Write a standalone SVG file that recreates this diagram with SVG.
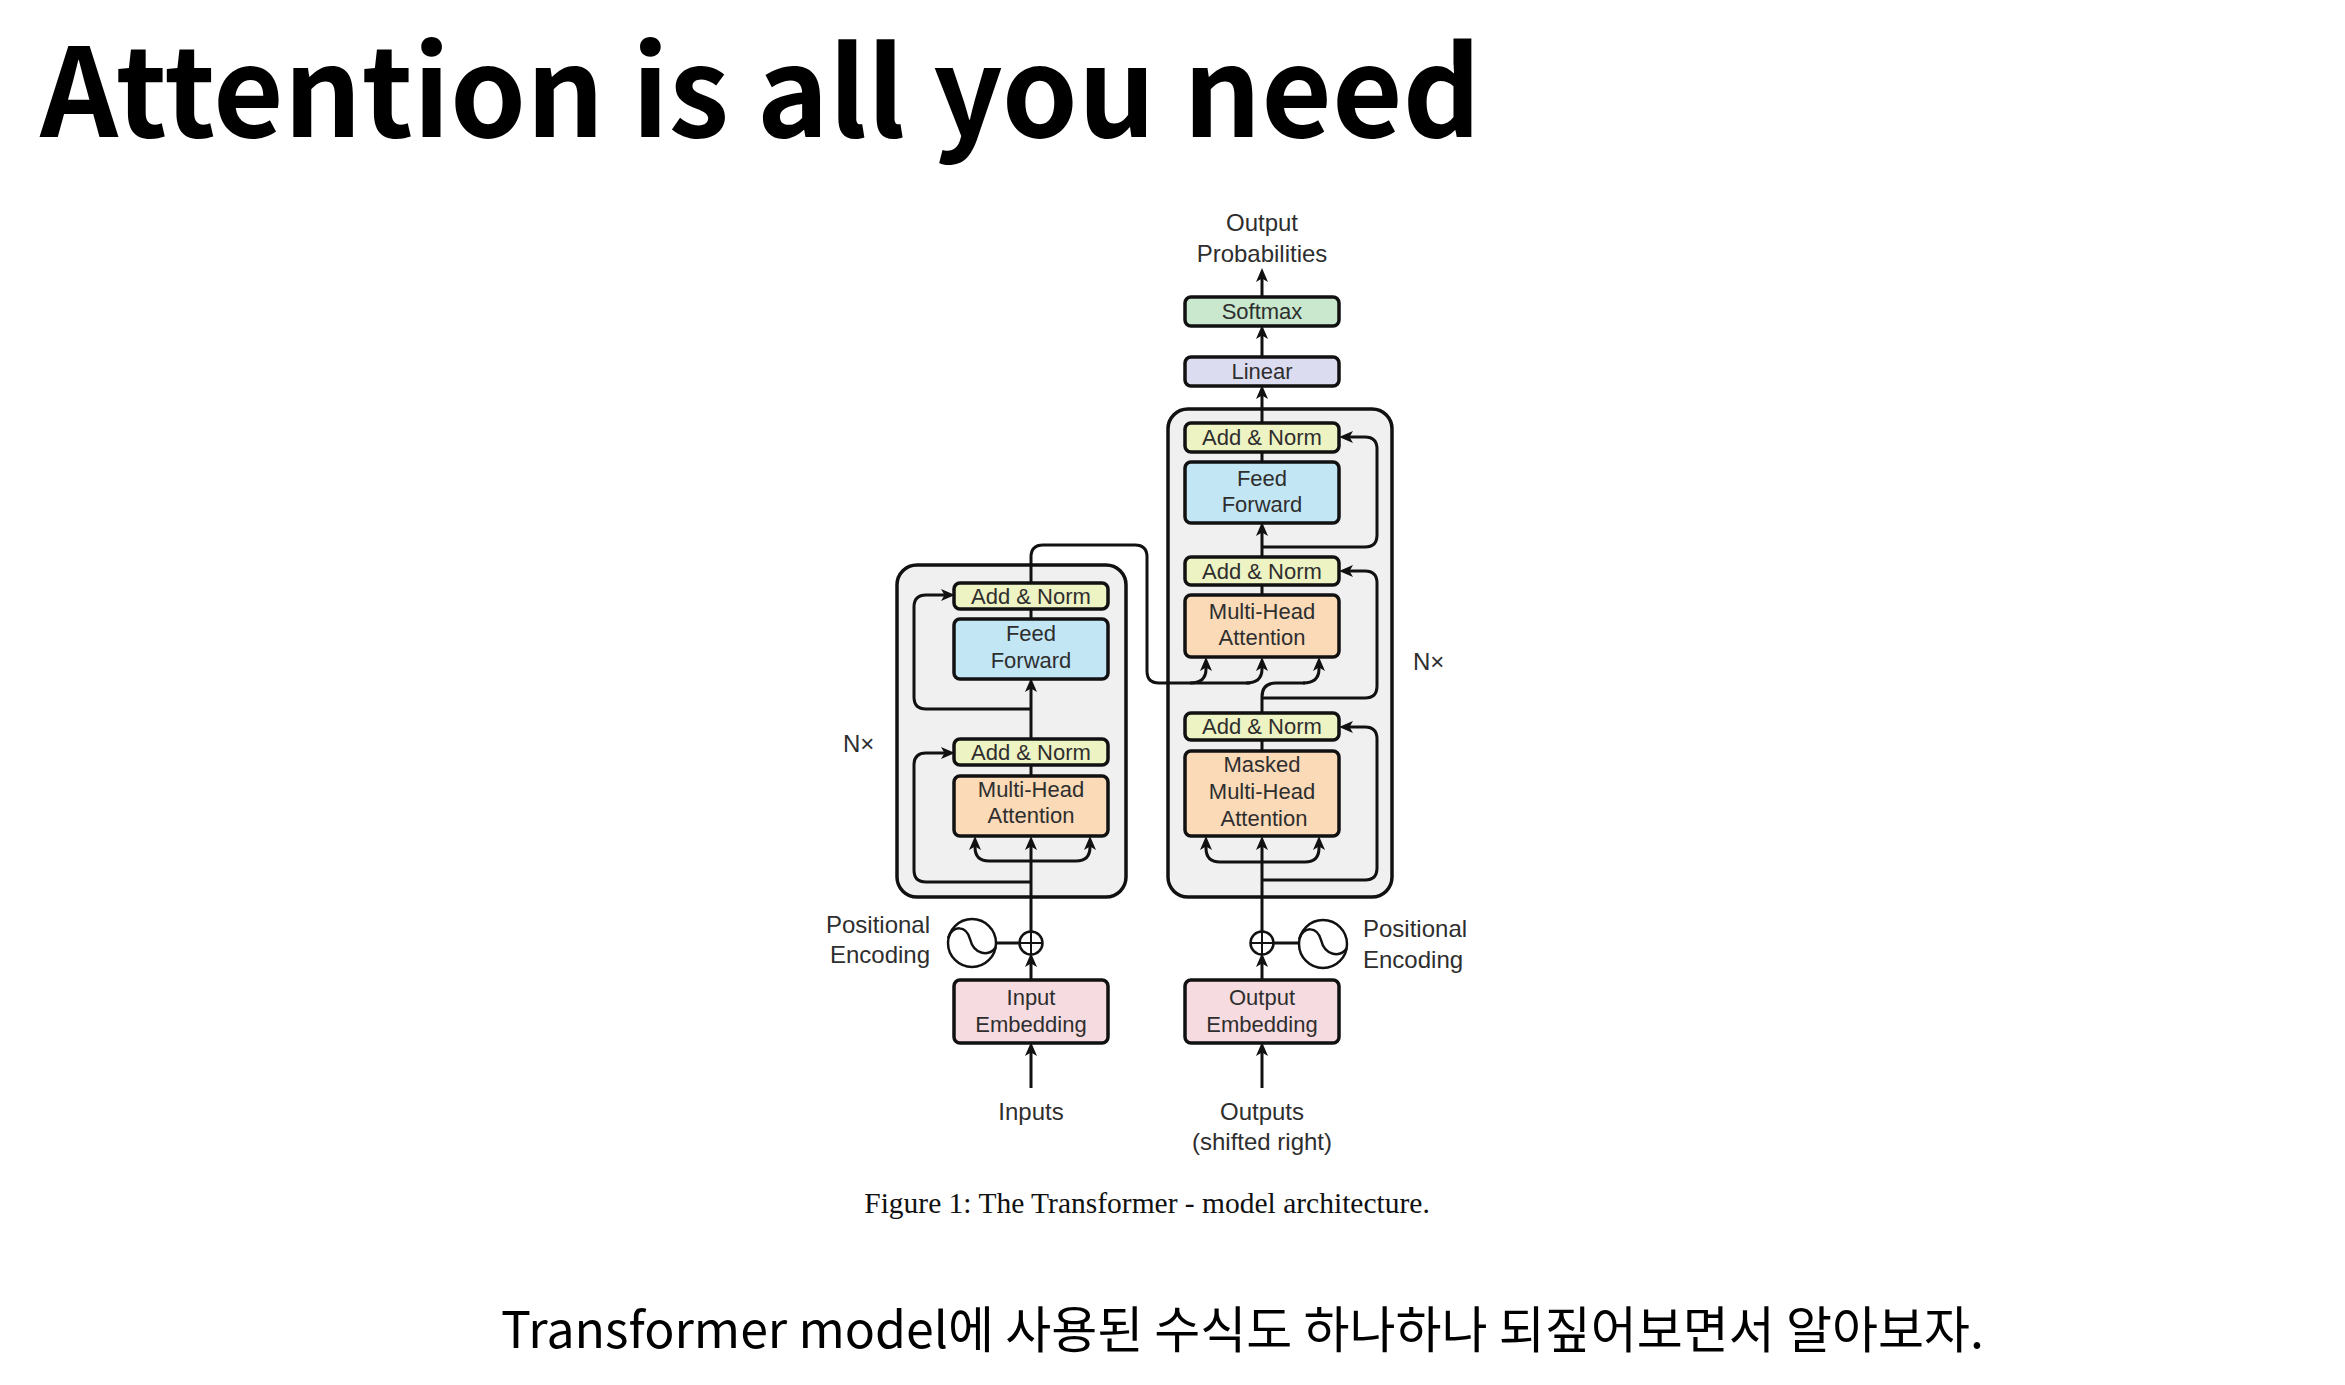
<svg xmlns="http://www.w3.org/2000/svg" width="2345" height="1385" viewBox="0 0 2345 1385">
  <defs>
    <marker id="arrow" markerUnits="userSpaceOnUse" markerWidth="16" markerHeight="14" viewBox="0 0 16 14" refX="6" refY="7" orient="auto">
      <path d="M0,1 L14,7 L0,13 L3.5,7 z" fill="#111"/>
    </marker>
    <style>
      .title { font-family: "Noto Sans CJK KR", "Noto Sans", sans-serif; font-weight: 700; font-size: 123px; fill: #000; }
      .sub { font-family: "Noto Sans CJK KR", "Noto Sans", sans-serif; font-weight: 400; font-size: 50px; fill: #000; }
      .cap { font-family: "Liberation Serif", serif; font-size: 29.5px; fill: #111; }
      .lbl { font-family: "Liberation Sans", Arial, sans-serif; font-size: 22px; fill: #2e2e2e; text-anchor: middle; }
      .out { font-family: "Liberation Sans", Arial, sans-serif; font-size: 24px; fill: #2e2e2e; }
      .stack { fill: #f0f0f0; stroke: #111; stroke-width: 3.5; }
      .box { stroke: #111; stroke-width: 3.5; }
      .norm { fill: #eef3c3; }
      .ff { fill: #c3e6f5; }
      .mha { fill: #fbdab8; }
      .lin { fill: #dcdcf1; }
      .soft { fill: #c9e8cd; }
      .emb { fill: #f6dce1; }
      .wire { fill: none; stroke: #111; stroke-width: 3; }
      .arr { fill: none; stroke: #111; stroke-width: 3; marker-end: url(#arrow); }
      .pe { fill: #fff; stroke: #111; stroke-width: 2.5; }
    </style>
  </defs>

  <rect width="2345" height="1385" fill="#fff"/>

  <text class="title" x="40" y="137" textLength="1441" lengthAdjust="spacingAndGlyphs">Attention is all you need</text>

  <!-- stacked layer frames -->
  <g id="encoder-stack">
    <rect class="stack" x="897" y="565" width="229" height="332" rx="20"/>
  </g>
  <g id="decoder-stack">
    <rect class="stack" x="1168" y="409" width="224" height="488" rx="20"/>
  </g>

  <!-- connectors -->
  <g id="connectors">
    <!-- decoder head -->
    <path class="arr" d="M1262 297 L1262 276"/>
    <path class="arr" d="M1262 357 L1262 333"/>
    <path class="arr" d="M1262 423 L1262 393"/>
    <path class="wire" d="M1262 452 L1262 462"/>
    <path class="arr" d="M1262 557 L1262 530"/>
    <path class="arr" d="M1262 547 L1365 547 Q1377 547 1377 535 L1377 449 Q1377 437 1365 437 L1347 437"/>
    <path class="wire" d="M1262 585 L1262 595"/>
    <!-- encoder output into decoder attention (K, V) -->
    <path class="wire" d="M1031 583 L1031 557 Q1031 545 1043 545 L1135 545 Q1147 545 1147 557 L1147 671 Q1147 683 1159 683 L1250 683"/>
    <path class="arr" d="M1190 683 Q1206 683 1206 669 L1206 665"/>
    <path class="arr" d="M1246 683 Q1262 683 1262 669 L1262 665"/>
    <!-- decoder query -->
    <path class="wire" d="M1262 713 L1262 697 Q1262 683 1276 683 L1305 683"/>
    <path class="arr" d="M1303 683 Q1319 683 1319 669 L1319 665"/>
    <path class="arr" d="M1262 698 L1365 698 Q1377 698 1377 686 L1377 583 Q1377 571 1365 571 L1347 571"/>
    <path class="wire" d="M1262 740 L1262 751"/>
    <!-- masked self-attention inputs -->
    <path class="arr" d="M1262 931 L1262 844"/>
    <path class="arr" d="M1262 862 L1220 862 Q1206 862 1206 848 L1206 844"/>
    <path class="arr" d="M1262 862 L1305 862 Q1319 862 1319 848 L1319 844"/>
    <path class="arr" d="M1262 880 L1365 880 Q1377 880 1377 868 L1377 739 Q1377 727 1365 727 L1347 727"/>
    <path class="arr" d="M1262 980 L1262 961"/>
    <path class="wire" d="M1274 943 L1299 943"/>
    <path class="arr" d="M1262 1088 L1262 1050"/>

    <!-- encoder -->
    <path class="wire" d="M1031 609 L1031 619"/>
    <path class="arr" d="M1031 739 L1031 686"/>
    <path class="arr" d="M1031 709 L926 709 Q914 709 914 697 L914 607 Q914 595 926 595 L947 595"/>
    <path class="wire" d="M1031 765 L1031 776"/>
    <path class="arr" d="M1031 931 L1031 844"/>
    <path class="arr" d="M1031 861 L989 861 Q975 861 975 847 L975 844"/>
    <path class="arr" d="M1031 861 L1076 861 Q1090 861 1090 847 L1090 844"/>
    <path class="arr" d="M1031 882 L926 882 Q914 882 914 870 L914 765 Q914 753 926 753 L947 753"/>
    <path class="arr" d="M1031 980 L1031 961"/>
    <path class="wire" d="M996 943 L1019 943"/>
    <path class="arr" d="M1031 1088 L1031 1050"/>
  </g>

  <!-- decoder blocks -->
  <g id="output-probabilities">
    <text class="out" x="1262" y="231" text-anchor="middle">Output</text>
    <text class="out" x="1262" y="262" text-anchor="middle">Probabilities</text>
  </g>
  <g id="softmax">
    <rect class="box soft" x="1185" y="297" width="154" height="29" rx="6"/>
    <text class="lbl" x="1262" y="319">Softmax</text>
  </g>
  <g id="linear">
    <rect class="box lin" x="1185" y="357" width="154" height="29" rx="6"/>
    <text class="lbl" x="1262" y="379">Linear</text>
  </g>
  <g id="dec-norm-3">
    <rect class="box norm" x="1185" y="423" width="154" height="29" rx="6"/>
    <text class="lbl" x="1262" y="445">Add &amp; Norm</text>
  </g>
  <g id="dec-feed-forward">
    <rect class="box ff" x="1185" y="462" width="154" height="61" rx="6"/>
    <text class="lbl" x="1262" y="486">Feed</text>
    <text class="lbl" x="1262" y="512">Forward</text>
  </g>
  <g id="dec-norm-2">
    <rect class="box norm" x="1185" y="557" width="154" height="28" rx="6"/>
    <text class="lbl" x="1262" y="579">Add &amp; Norm</text>
  </g>
  <g id="dec-attention">
    <rect class="box mha" x="1185" y="595" width="154" height="62" rx="6"/>
    <text class="lbl" x="1262" y="619">Multi-Head</text>
    <text class="lbl" x="1262" y="645">Attention</text>
  </g>
  <g id="dec-norm-1">
    <rect class="box norm" x="1185" y="713" width="154" height="27" rx="6"/>
    <text class="lbl" x="1262" y="734">Add &amp; Norm</text>
  </g>
  <g id="dec-masked-attention">
    <rect class="box mha" x="1185" y="751" width="154" height="85" rx="6"/>
    <text class="lbl" x="1262" y="772">Masked</text>
    <text class="lbl" x="1262" y="799">Multi-Head</text>
    <text class="lbl" x="1264" y="826">Attention</text>
  </g>
  <g id="dec-nx">
    <text class="out" x="1413" y="670">N×</text>
  </g>
  <g id="dec-positional">
    <circle class="pe" cx="1262" cy="943" r="11.5"/>
    <path class="wire" d="M1262 931.5 L1262 954.5 M1250.5 943 L1273.5 943" style="stroke-width:2"/>
    <circle class="pe" cx="1323" cy="944" r="24"/>
    <path class="wire" d="M1299 939 C1304 926 1317 926 1321 940 C1325 956 1340 958 1347 948" style="stroke-width:2.5"/>
    <text class="out" x="1363" y="937">Positional</text>
    <text class="out" x="1363" y="968">Encoding</text>
  </g>
  <g id="output-embedding">
    <rect class="box emb" x="1185" y="980" width="154" height="63" rx="6"/>
    <text class="lbl" x="1262" y="1005">Output</text>
    <text class="lbl" x="1262" y="1032">Embedding</text>
  </g>
  <g id="outputs">
    <text class="out" x="1262" y="1120" text-anchor="middle">Outputs</text>
    <text class="out" x="1262" y="1150" text-anchor="middle">(shifted right)</text>
  </g>

  <!-- encoder blocks -->
  <g id="enc-norm-2">
    <rect class="box norm" x="954" y="583" width="154" height="26" rx="6"/>
    <text class="lbl" x="1031" y="604">Add &amp; Norm</text>
  </g>
  <g id="enc-feed-forward">
    <rect class="box ff" x="954" y="619" width="154" height="60" rx="6"/>
    <text class="lbl" x="1031" y="641">Feed</text>
    <text class="lbl" x="1031" y="668">Forward</text>
  </g>
  <g id="enc-norm-1">
    <rect class="box norm" x="954" y="739" width="154" height="26" rx="6"/>
    <text class="lbl" x="1031" y="760">Add &amp; Norm</text>
  </g>
  <g id="enc-attention">
    <rect class="box mha" x="954" y="776" width="154" height="60" rx="6"/>
    <text class="lbl" x="1031" y="797">Multi-Head</text>
    <text class="lbl" x="1031" y="823">Attention</text>
  </g>
  <g id="enc-nx">
    <text class="out" x="843" y="752">N×</text>
  </g>
  <g id="enc-positional">
    <circle class="pe" cx="1031" cy="943" r="11.5"/>
    <path class="wire" d="M1031 931.5 L1031 954.5 M1019.5 943 L1042.5 943" style="stroke-width:2"/>
    <circle class="pe" cx="972" cy="943" r="24"/>
    <path class="wire" d="M948 938 C953 925 966 925 970 939 C974 955 989 957 996 947" style="stroke-width:2.5"/>
    <text class="out" x="930" y="933" text-anchor="end">Positional</text>
    <text class="out" x="930" y="963" text-anchor="end">Encoding</text>
  </g>
  <g id="input-embedding">
    <rect class="box emb" x="954" y="980" width="154" height="63" rx="6"/>
    <text class="lbl" x="1031" y="1005">Input</text>
    <text class="lbl" x="1031" y="1032">Embedding</text>
  </g>
  <g id="inputs">
    <text class="out" x="1031" y="1120" text-anchor="middle">Inputs</text>
  </g>

  <text class="cap" x="1147" y="1213" text-anchor="middle">Figure 1: The Transformer - model architecture.</text>

  <text class="sub" x="501" y="1348">Transformer model에 사용된 수식도 하나하나 되짚어보면서 알아보자.</text>
</svg>
